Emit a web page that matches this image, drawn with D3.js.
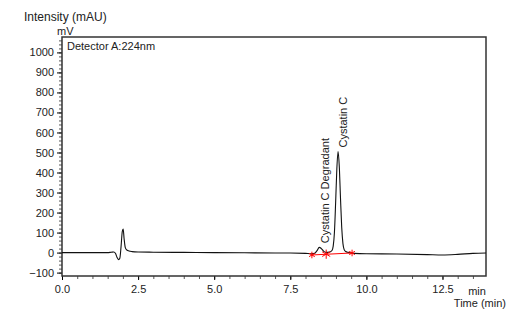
<!DOCTYPE html>
<html lang="en">
<head>
<meta charset="utf-8">
<title>Chromatogram</title>
<script src="https://d3js.org/d3.v7.min.js"></script>
<style>
  body { margin: 0; background: #fff; }
  text { font-family: "Liberation Sans", Arial, sans-serif; fill: #222; }
</style>
</head>
<body>
<script>
const width = 522, height = 318;
const margin = {top: 37, right: 36, bottom: 42, left: 62};

// chromatogram trace: time (min), intensity (mV)
const times = [0, 0.5, 1.0, 1.5, 1.62, 1.7, 1.76, 1.81, 1.86, 1.9, 1.94, 1.98, 2.01, 2.04, 2.08, 2.13, 2.2, 2.3, 2.5, 3.0, 4.0, 5.0, 6.0, 7.0, 7.5, 8.0, 8.2, 8.3, 8.38, 8.45, 8.52, 8.6, 8.68, 8.75, 8.82, 8.87, 8.91, 8.95, 8.99, 9.03, 9.07, 9.11, 9.15, 9.19, 9.23, 9.27, 9.32, 9.4, 9.5, 9.6, 10.0, 11.0, 12.0, 12.5, 13.0, 13.5, 13.93];
const values = [0, 0, 0, 0, 2, 3, -5, -25, -35, -28, 30, 105, 118, 70, 25, 13, 8, 5, 3, 2, 1, 0, -1, -2, -2, -4, -6, -4, 10, 26, 20, 6, 1, 2, 4, 10, 32, 100, 250, 420, 505, 430, 270, 125, 45, 15, 5, 1, -2, -4, -6, -7, -10, -12, -9, -4, -2];

// integration baseline markers
const markTimes = [8.21, 8.68, 9.53];
const markValues = [-12, -8, -2];

// peak labels
const peakNames = ["Cystatin C Degradant", "Cystatin C"];
const peakTimes = [8.47, 9.07];
const peakValues = [27, 505];

const xTicks = [0, 2.5, 5, 7.5, 10, 12.5];
const yTicks = [-100, 0, 100, 200, 300, 400, 500, 600, 700, 800, 900, 1000];

const trace = times.map((t, i) => ({t: t, v: values[i]}));
const marks = markTimes.map((t, i) => ({t: t, v: markValues[i]}));

const x = d3.scaleLinear().domain([0, 13.93]).range([margin.left, width - margin.right]);
const y = d3.scaleLinear().domain([-117, 1077]).range([height - margin.bottom, margin.top]);

const svg = d3.select("body").append("svg")
    .attr("width", width)
    .attr("height", height);

// minor ticks
svg.append("g")
    .attr("transform", "translate(" + margin.left + ",0)")
    .call(d3.axisLeft(y).tickValues(d3.range(-100, 1061, 20)).tickSize(3).tickFormat(""))
    .call(g => g.select(".domain").remove())
    .selectAll("line").attr("stroke", "#555");

svg.append("g")
    .attr("transform", "translate(0," + (height - margin.bottom) + ")")
    .call(d3.axisBottom(x).tickValues(d3.range(0, 13.6, 0.5)).tickSize(3).tickFormat(""))
    .call(g => g.select(".domain").remove())
    .selectAll("line").attr("stroke", "#555");

// major ticks with labels
svg.append("g")
    .attr("transform", "translate(" + margin.left + ",0)")
    .call(d3.axisLeft(y).tickValues(yTicks).tickSize(5).tickPadding(3).tickFormat(d3.format("d")))
    .call(g => g.select(".domain").remove())
    .call(g => g.selectAll("text").attr("font-size", 11).style("font-family", "Liberation Sans, Arial, sans-serif"));

svg.append("g")
    .attr("transform", "translate(0," + (height - margin.bottom) + ")")
    .call(d3.axisBottom(x).tickValues(xTicks).tickSize(4).tickPadding(5).tickFormat(d3.format(".1f")))
    .call(g => g.select(".domain").remove())
    .call(g => g.selectAll("text").attr("font-size", 11).style("font-family", "Liberation Sans, Arial, sans-serif"));

// frame
svg.append("rect")
    .attr("x", margin.left)
    .attr("y", margin.top)
    .attr("width", width - margin.left - margin.right)
    .attr("height", height - margin.top - margin.bottom)
    .attr("fill", "none")
    .attr("stroke", "#333")
    .attr("stroke-width", 1.5);

// trace
svg.append("path")
    .datum(trace)
    .attr("fill", "none")
    .attr("stroke", "#111")
    .attr("stroke-width", 1.1)
    .attr("d", d3.line().x(d => x(d.t)).y(d => y(d.v)).curve(d3.curveMonotoneX));

// integration baseline
svg.append("line")
    .attr("x1", x(marks[0].t)).attr("y1", y(marks[0].v))
    .attr("x2", x(marks[2].t)).attr("y2", y(marks[2].v))
    .attr("stroke", "red")
    .attr("stroke-width", 1);

svg.selectAll(".mark")
    .data(marks)
    .enter()
    .append("path")
    .attr("class", "mark")
    .attr("transform", d => "translate(" + x(d.t) + "," + y(d.v) + ")")
    .attr("d", (d, i) => d3.symbol(d3.symbolAsterisk, i === 1 ? 60 : 30)())
    .attr("fill", "none")
    .attr("stroke", "red")
    .attr("stroke-width", 1);

// peak labels
svg.selectAll(".peak")
    .data(peakNames)
    .enter()
    .append("text")
    .attr("class", "peak")
    .attr("transform", (d, i) => "translate(" + (x(peakTimes[i]) + 9) + "," + (y(peakValues[i]) - 4) + ") rotate(-90)")
    .attr("font-size", 11)
    .text(d => d);

// titles
svg.append("text").attr("x", 24).attr("y", 21).attr("font-size", 12).text("Intensity (mAU)");
svg.append("text").attr("x", 57).attr("y", 35).attr("font-size", 11).text("mV");
svg.append("text").attr("x", 67).attr("y", 50).attr("font-size", 11).text("Detector A:224nm");
svg.append("text").attr("x", 477).attr("y", 295).attr("font-size", 11).attr("text-anchor", "middle").text("min");
svg.append("text").attr("x", 506).attr("y", 307).attr("font-size", 11).attr("text-anchor", "end").text("Time (min)");
</script>
</body>
</html>
